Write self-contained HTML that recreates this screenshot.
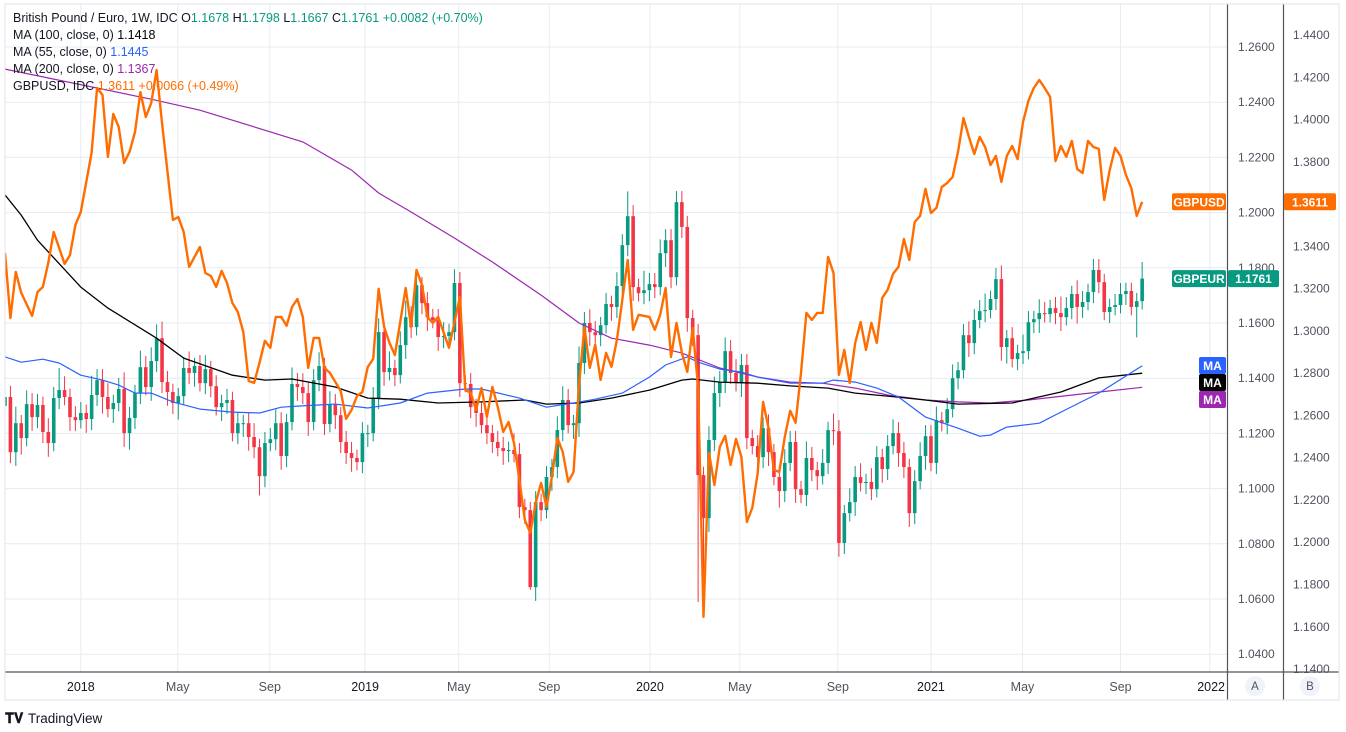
<!DOCTYPE html>
<html><head><meta charset="utf-8"><style>
html,body{margin:0;padding:0;background:#fff;}
svg{display:block;font-family:"Liberation Sans",Arial,sans-serif;}
</style></head><body>
<svg id="chart" width="1346" height="732" viewBox="0 0 1346 732" xmlns="http://www.w3.org/2000/svg">
<defs><clipPath id="plotClip"><rect x="5" y="4" width="1222" height="668"/></clipPath></defs>
<rect x="0" y="0" width="1346" height="732" fill="#fff"/>
<g id="grid"></g>
<g id="plot" clip-path="url(#plotClip)"></g>
<g id="axes"></g>
<g id="legend" font-size="12.5">
<text x="13" y="22" fill="#131722">British Pound / Euro, 1W, IDC <tspan fill="#131722">O</tspan><tspan fill="#089981">1.1678</tspan> <tspan fill="#131722">H</tspan><tspan fill="#089981">1.1798</tspan> <tspan fill="#131722">L</tspan><tspan fill="#089981">1.1667</tspan> <tspan fill="#131722">C</tspan><tspan fill="#089981">1.1761</tspan> <tspan fill="#089981">+0.0082 (+0.70%)</tspan></text>
<text x="13" y="39" fill="#131722">MA (100, close, 0) <tspan fill="#000">1.1418</tspan></text>
<text x="13" y="56" fill="#131722">MA (55, close, 0) <tspan fill="#2962ff">1.1445</tspan></text>
<text x="13" y="73" fill="#131722">MA (200, close, 0) <tspan fill="#9c27b0">1.1367</tspan></text>
<text x="13" y="90" fill="#131722">GBPUSD, IDC <tspan fill="#ff6d00">1.3611</tspan> <tspan fill="#ff6d00">+0.0066 (+0.49%)</tspan></text>
</g>
<g>
<text x="5" y="723" font-size="14" font-weight="bold" fill="#131722">&#x1D413;&#x1D415;</text>
<text x="28" y="723" font-size="13.5" fill="#131722">TradingView</text>
</g>
</svg>
<script>
const closes=[1.1332,1.1132,1.1237,1.1183,1.1306,1.1259,1.1303,1.1205,1.1165,1.1328,
1.1357,1.1332,1.1259,1.1248,1.1274,1.1252,1.1339,1.1393,1.1332,1.1288,
1.1310,1.1361,1.1201,1.1256,1.1346,1.1440,1.1368,1.1462,1.1545,1.1386,
1.1350,1.1310,1.1335,1.1437,1.1419,1.1444,1.1382,1.1433,1.1371,1.1295,
1.1310,1.1321,1.1201,1.1237,1.1237,1.1187,1.1150,1.1045,1.1165,1.1179,
1.1237,1.1118,1.1241,1.1379,1.1368,1.1346,1.1241,1.1393,1.1444,1.1234,
1.1303,1.1266,1.1169,1.1129,1.1111,1.1096,1.1201,1.1201,1.1328,1.1567,
1.1422,1.1437,1.1411,1.1520,1.1621,1.1585,1.1737,1.1672,1.1621,1.1611,
1.1549,1.1553,1.1567,1.1745,1.1382,1.1379,1.1295,1.1274,1.1230,1.1201,
1.1169,1.1147,1.1136,1.1140,1.1125,1.0933,1.0922,1.0643,1.0951,1.0922,
1.1042,1.1078,1.1212,1.1321,1.1230,1.1237,1.1455,1.1600,1.1567,1.1556,
1.1592,1.1669,1.1658,1.1734,1.1882,1.1987,1.1730,1.1708,1.1719,1.1741,
1.1730,1.1853,1.1900,1.1766,1.2038,1.1948,1.1618,1.1556,1.1049,1.0893,
1.1176,1.1346,1.1386,1.1498,1.1419,1.1382,1.1448,1.1183,1.1154,1.1114,
1.1219,1.1132,1.1042,1.0991,1.1093,1.1169,1.0998,1.0977,1.1111,1.1067,
1.1045,1.1093,1.1212,1.1208,1.0803,1.0911,1.0951,1.1042,1.1020,1.1024,
1.0998,1.1114,1.1071,1.1154,1.1201,1.1129,1.1078,1.0911,1.1027,1.1118,
1.1190,1.1093,1.1248,1.1237,1.1288,1.1400,1.1429,1.1556,1.1527,1.1611,
1.1643,1.1647,1.1687,1.1759,1.1513,1.1545,1.1469,1.1491,1.1498,1.1603,
1.1614,1.1636,1.1632,1.1654,1.1636,1.1621,1.1654,1.1705,1.1658,1.1676,
1.1712,1.1792,1.1748,1.1640,1.1658,1.1665,1.1705,1.1716,1.1658,1.1679,
1.1761];
const firstOpen=1.1300;
const wickUp=[3,4,6,3,5,4,4,3,5,4, 8,5,3,4,4,3,7,4,4,5, 3,4,6,4,3,6,4,5,5,6, 4,3,3,4,6,3,4,5,3,4,
3,4,3,4,3,4,5,3,4,4, 5,4,3,6,4,5,4,4,5,3, 5,4,3,4,4,3,4,3,4,5, 4,6,3,5,6,4,5,3,4,3,
4,5,3,5,4,3,4,3,4,4, 3,4,4,3,6,4,3,3,4,3, 4,3,5,5,4,3,6,4,5,4, 3,4,3,5,4,9,4,3,7,4,
4,5,4,4,4,4,4,3,4,3, 5,6,4,5,4,5,4,4,3,4, 4,5,3,4,5,4,4,3,6,4, 3,5,3,6,4,3,5,4,5,3,
5,4,3,4,5,4,4,3,4,5, 4,4,5,3,4,5,3,4,5,4, 4,6,3,4,5,3,4,3,6,4, 3,5,4,3,4,6,4,3,5,4,
3,4,4,3,3,4,4,3,3,3, 6];
const wickDn=[4,4,5,6,3,5,4,4,5,3, 4,3,5,4,3,5,4,4,6,3, 5,3,5,6,4,4,3,5,4,4, 5,4,6,3,4,5,3,4,4,3,
5,4,3,4,5,5,4,7,4,3, 4,5,4,3,5,4,5,3,4,4, 3,5,4,4,5,3,4,5,3,4, 5,3,4,3,5,4,3,4,5,3,
5,4,3,3,5,3,4,5,3,4, 4,3,5,4,3,4,5,1,5,4, 3,5,4,4,3,5,5,4,5,3, 4,3,5,4,4,4,5,3,4,4,
4,3,5,4,3,4,5,4,46,36, 5,4,5,4,4,3,5,4,3,5, 4,5,3,6,4,3,5,3,4,4, 5,3,4,5,5,4,3,5,3,4,
4,3,5,4,3,5,4,5,4,3, 5,3,4,3,4,3,4,3,5,4, 3,4,3,4,5,6,3,4,4,3, 4,5,3,3,4,5,3,4,6,4,
3,4,4,3,4,3,3,4,3,11, 3];
const ma100Idx=[0,3,6,14,19,28,33,42,48,53,61,67,73,80,88,96,100,106,112,119,125,127,132,139,145,152,157,163,170,176,186,195,202,210];
const ma100Val=[1.2064,1.1991,1.1900,1.1730,1.1654,1.1545,1.1473,1.1411,1.1393,1.1397,1.1368,1.1328,1.1324,1.1310,1.1314,1.1321,1.1306,1.1310,1.1328,1.1357,1.1393,1.1397,1.1386,1.1382,1.1372,1.1364,1.1346,1.1335,1.1321,1.1306,1.1310,1.1350,1.1401,1.1418];
const ma55Idx=[0,3,7,10,14,18,21,24,27,31,36,42,47,51,54,61,67,73,78,85,88,95,100,105,109,114,119,122,126,128,132,136,139,145,151,153,157,161,165,170,176,180,182,185,191,195,202,210];
const ma55Val=[1.1477,1.1458,1.1469,1.1455,1.1411,1.1393,1.1375,1.1346,1.1346,1.1314,1.1288,1.1277,1.1274,1.1295,1.1299,1.1306,1.1292,1.1310,1.1346,1.1361,1.1361,1.1328,1.1295,1.1310,1.1324,1.1346,1.1404,1.1448,1.1477,1.1458,1.1433,1.1422,1.1404,1.1382,1.1382,1.1393,1.1386,1.1364,1.1332,1.1259,1.1219,1.1190,1.1194,1.1223,1.1237,1.1277,1.1346,1.1445];
const ma200Idx=[0,27,36,55,64,69,75,83,90,99,106,112,119,125,132,139,145,151,157,163,170,176,182,189,199,210];
const ma200Val=[1.2520,1.2411,1.2371,1.2256,1.2154,1.2071,1.2002,1.1908,1.1821,1.1701,1.1600,1.1545,1.1520,1.1491,1.1437,1.1404,1.1386,1.1382,1.1364,1.1339,1.1321,1.1314,1.1310,1.1321,1.1343,1.1367];
const usdIdx=[0,1,2,3,5,6,7,8,9,11,12,13,14,16,17,18,19,20,21,22,23,24,25,26,27,28,29,31,32,33,34,36,37,38,39,40,41,42,43,44,45,46,47,48,49,50,51,52,53,54,55,56,57,58,59,60,62,63,64,65,66,67,68,69,70,71,72,74,75,76,77,78,79,80,82,84,85,86,87,88,89,90,91,92,93,94,95,96,97,98,99,100,101,102,103,104,105,106,107,108,109,110,111,112,113,115,116,117,119,120,121,122,123,124,125,126,127,128,129,130,131,132,133,134,135,136,137,138,139,140,141,142,143,144,145,146,147,148,149,150,151,152,153,154,155,156,157,158,159,160,161,162,163,164,165,166,167,168,169,170,171,172,173,174,175,176,177,178,179,180,181,182,183,184,185,186,187,188,189,190,191,192,193,194,195,196,197,198,199,200,201,202,203,204,205,206,207,208,209,210];
const usdVal=[1.3369,1.3061,1.3279,1.3180,1.3071,1.3184,1.3208,1.3322,1.3468,1.3317,1.3359,1.3501,1.3563,1.3842,1.4149,1.4116,1.3823,1.4026,1.3965,1.3795,1.3847,1.3941,1.4130,1.4012,1.4078,1.4234,1.3984,1.3525,1.3539,1.3468,1.3303,1.3397,1.3274,1.3260,1.3208,1.3284,1.3227,1.3132,1.3090,1.2995,1.2763,1.2754,1.2849,1.2953,1.2920,1.3066,1.3066,1.3024,1.3113,1.3151,1.3066,1.2825,1.2967,1.2967,1.2825,1.2801,1.2716,1.2584,1.2626,1.2692,1.2711,1.2830,1.2867,1.3199,1.3019,1.2943,1.2886,1.3203,1.3019,1.3288,1.3217,1.3066,1.3038,1.3066,1.2920,1.3161,1.2721,1.2707,1.2626,1.2730,1.2593,1.2735,1.2640,1.2522,1.2569,1.2470,1.2295,1.2106,1.2044,1.2186,1.2281,1.2167,1.2309,1.2494,1.2428,1.2286,1.2333,1.2744,1.3019,1.2825,1.2934,1.2768,1.2896,1.2830,1.2957,1.3336,1.3005,1.3076,1.3066,1.3005,1.3076,1.3203,1.2877,1.3038,1.2896,1.2806,1.3014,1.2735,1.1647,1.2423,1.2271,1.2451,1.2503,1.2366,1.2489,1.2404,1.2096,1.2163,1.2328,1.2664,1.2541,1.2342,1.2333,1.2499,1.2622,1.2565,1.2801,1.3085,1.3052,1.3085,1.3085,1.3350,1.3274,1.2792,1.2910,1.2754,1.2943,1.3042,1.2910,1.3038,1.2943,1.3156,1.3194,1.3270,1.3303,1.3435,1.3336,1.3515,1.3544,1.3672,1.3558,1.3582,1.3681,1.3700,1.3728,1.3847,1.4007,1.3918,1.3837,1.3918,1.3870,1.3785,1.3828,1.3705,1.3828,1.3875,1.3813,1.3988,1.4088,1.4149,1.4187,1.4149,1.4107,1.3804,1.3875,1.3823,1.3899,1.3766,1.3747,1.3899,1.3870,1.3861,1.3620,1.3761,1.3866,1.3828,1.3738,1.3676,1.3544,1.3611];
const leftTicks=[1.26,1.24,1.22,1.20,1.18,1.16,1.14,1.12,1.10,1.08,1.06,1.04];
const rightTicks=[1.44,1.42,1.40,1.38,1.36,1.34,1.32,1.30,1.28,1.26,1.24,1.22,1.20,1.18,1.16,1.14];
const timeLabels=["2018","May","Sep","2019","May","Sep","2020","May","Sep","2021","May","Sep","2022"];
const timeIdx=[14,31.9,48.9,66.5,83.8,100.5,119.1,135.7,153.8,171,187.9,206,222.5];

const NS="http://www.w3.org/2000/svg";
const xI=i=>5+i*5.415;
const yL=p=>47+(1.26-p)/0.02*55.2;
const yR=p=>35+(1.44-p)/0.02*42.27;
function mk(tag,attrs,parent){const e=document.createElementNS(NS,tag);for(const k in attrs)e.setAttribute(k,attrs[k]);parent.appendChild(e);return e;}
const grid=document.getElementById('grid'),plot=document.getElementById('plot'),axes=document.getElementById('axes');
const GC="#e6ecf2";
leftTicks.forEach(t=>{const y=yL(t);const l=mk('line',{x1:5,x2:1227,y1:y,y2:y,stroke:GC,'stroke-width':1},grid);

});
timeIdx.forEach(ti=>{const x=xI(ti);if(x>1226)return;const l=mk('line',{x1:x,x2:x,y1:4,y2:672,stroke:GC,'stroke-width':1},grid);

});
closes.forEach((c,i)=>{const o=i===0?firstOpen:closes[i-1];const up=c>=o;const col=up?'#089981':'#f23645';
const hi=Math.max(o,c)+wickUp[i]*0.001,lo=Math.min(o,c)-wickDn[i]*0.001;const x=xI(i);
const g=mk('g',{},plot);


mk('line',{x1:x,x2:x,y1:yL(hi),y2:yL(lo),stroke:col,'stroke-width':1},g);
const yt=yL(Math.max(o,c)),yb=yL(Math.min(o,c));
mk('rect',{x:x-1.8,y:yt,width:3.6,height:Math.max(1,yb-yt),fill:col},g);});
function line(idx,val,yf,color,w,name){const d=idx.map((i,k)=>(k?'L':'M')+xI(i).toFixed(1)+','+yf(val[k]).toFixed(1)).join('');
const p=mk('path',{d:d,fill:'none',stroke:color,'stroke-width':w,'stroke-linejoin':'round'},plot);

}
line(ma200Idx,ma200Val,yL,'#9c27b0',1.2,'ma200-line');
line(ma100Idx,ma100Val,yL,'#000000',1.3,'ma100-line');
line(ma55Idx,ma55Val,yL,'#2962ff',1.2,'ma55-line');
line(usdIdx,usdVal,yR,'#ff6d00',2.4,'gbpusd-line');
[[5,672,1339,672],[1227.5,4,1227.5,700],[1283.5,4,1283.5,700]].forEach(a=>{const l=mk('line',{x1:a[0],y1:a[1],x2:a[2],y2:a[3],stroke:'#50535e','stroke-width':1.2},axes);

});
const fr=mk('rect',{x:5,y:4,width:1334,height:696,fill:'none',stroke:'#e0e3eb','stroke-width':1},axes);


leftTicks.forEach(t=>{const tx=mk('text',{x:1238,y:yL(t)+4,'font-size':12,fill:'#50535e'},axes);tx.textContent=t.toFixed(4);

});
rightTicks.forEach(t=>{const tx=mk('text',{x:1293,y:yR(t)+4,'font-size':12,fill:'#50535e'},axes);tx.textContent=t.toFixed(4);

});
timeLabels.forEach((lab,k)=>{const isY=/^\d/.test(lab);const x=xI(timeIdx[k]);const last=k===timeLabels.length-1;
const tx=mk('text',{x:last?1225:x,y:691,'font-size':12.5,'text-anchor':last?'end':'middle',fill:isY?'#131722':'#50535e'},axes);tx.textContent=lab;

});
function tag(x,y,w,text,bg,fg,name){const g=mk('g',{},axes);


mk('rect',{x:x,y:y-8.5,width:w,height:17,rx:2,fill:bg},g);
const t=mk('text',{x:x+w/2,y:y+4.5,'font-size':12,'text-anchor':'middle',fill:fg,'font-weight':'bold'},g);t.textContent=text;}
const lastC=closes[closes.length-1],lastU=usdVal[usdVal.length-1];
tag(1172,yR(lastU),54,'GBPUSD','#ff6d00','#fff','gbpusd-tag');
tag(1284,yR(lastU),52,lastU.toFixed(4),'#ff6d00','#fff','gbpusd-price-tag');
tag(1172,yL(lastC),54,'GBPEUR','#089981','#fff','gbpeur-tag');
tag(1228,yL(lastC),51,lastC.toFixed(4),'#089981','#fff','gbpeur-price-tag');
tag(1199,365.5,27,'MA','#2962ff','#fff','ma55-tag');
tag(1199,382.5,27,'MA','#000000','#fff','ma100-tag');
tag(1199,399.5,27,'MA','#9c27b0','#fff','ma200-tag');
[['A',1255],['B',1310]].forEach(b=>{const g=mk('g',{},axes);


mk('circle',{cx:b[1],cy:686,r:10,fill:'#f0f3fa'},g);
const t=mk('text',{x:b[1],y:690,'font-size':11.5,'text-anchor':'middle',fill:'#50535e'},g);t.textContent=b[0];});
</script>
</body></html>
